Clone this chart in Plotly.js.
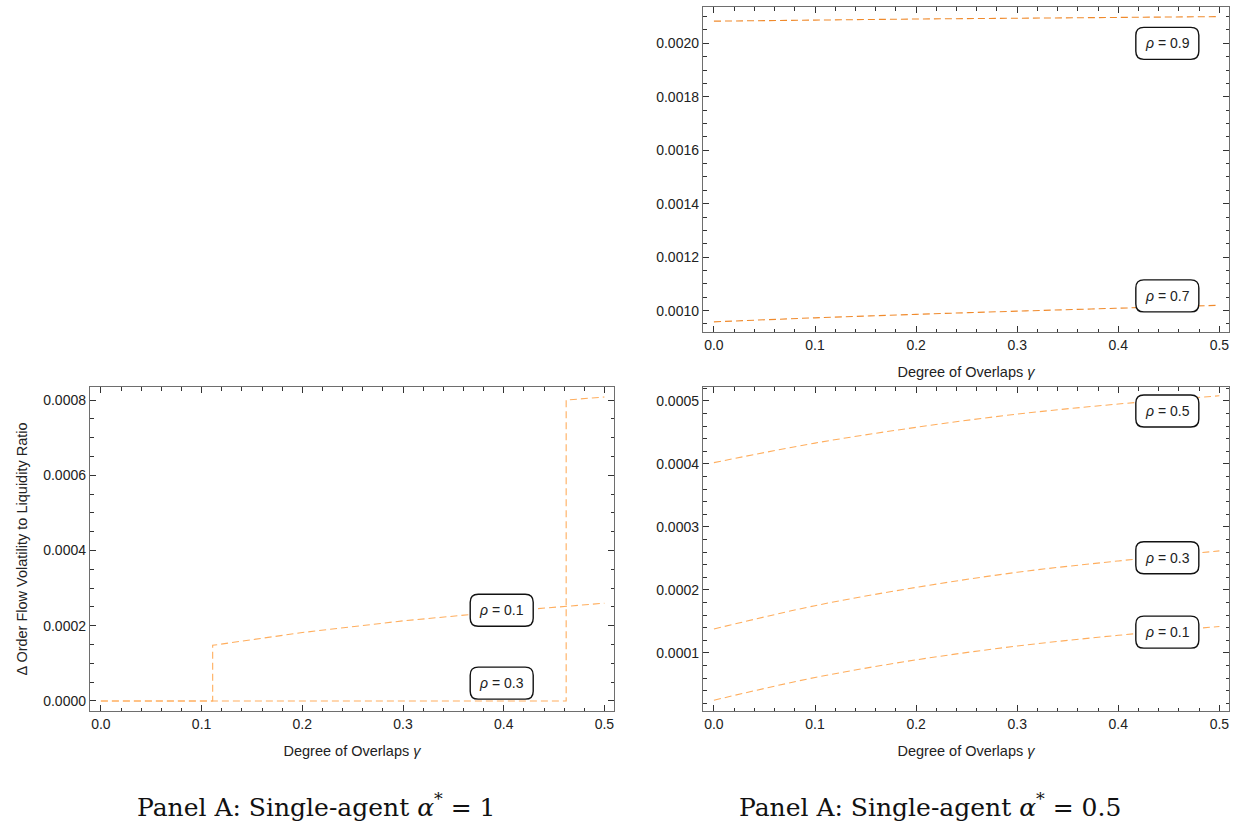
<!DOCTYPE html>
<html>
<head>
<meta charset="utf-8">
<script src="https://cdn.plot.ly/plotly-3.0.1.min.js"></script>
<style>html,body{margin:0;padding:0;background:#fff;} #chart{width:1243px;height:822px;}</style>
</head>
<body>
<div id="chart"></div>
<script>
// ---- Data ----
// Top-right panel (alpha* = 0.5, high rho)
const gammaTR = [0, 0.1, 0.2, 0.3, 0.4, 0.5];
const rho09 = [0.002083, 0.002087, 0.002091, 0.002094, 0.002097, 0.002100];
const rho07 = [0.000958, 0.000973, 0.000986, 0.000998, 0.001009, 0.001020];

// Bottom-left panel (alpha* = 1)
const gammaBL_r01 = [0, 0.111, 0.111, 0.2, 0.3, 0.4, 0.5];
const valBL_r01 = [0, 0, 0.000148, 0.000182, 0.000213, 0.000238, 0.000260];
const gammaBL_r03 = [0, 0.462, 0.462, 0.5];
const valBL_r03 = [0, 0, 0.000800, 0.000808];

// Bottom-right panel (alpha* = 0.5, low rho)
const gammaBR = [0, 0.1, 0.2, 0.3, 0.4, 0.5];
const rho05 = [0.000402, 0.000433, 0.000458, 0.000479, 0.000495, 0.000508];
const rho03 = [0.000138, 0.000175, 0.000204, 0.000228, 0.000246, 0.000262];
const rho01 = [0.000025, 0.000061, 0.000089, 0.000111, 0.000128, 0.000142];

const xTickVals = [0, 0.1, 0.2, 0.3, 0.4, 0.5];
const labelsTR = [{t: "0.9", x: 0.4485, y: 0.0020}, {t: "0.7", x: 0.4485, y: 0.001055}];
const labelsBL = [{t: "0.1", x: 0.398, y: 0.000241}, {t: "0.3", x: 0.398, y: 0.0000474}];
const labelsBR = [{t: "0.5", x: 0.4485, y: 0.000484}, {t: "0.3", x: 0.4485, y: 0.000251}, {t: "0.1", x: 0.4485, y: 0.000133}];
const captions = [
  {text: "Panel A: Single-agent <i>α</i><sup>*</sup> = 1", x: 316},
  {text: "Panel A: Single-agent <i>α</i><sup>*</sup> = 0.5", x: 930}
];

// ---- Styling ----
const W = 1243, H = 822;
const darkOrange = "#f08a2c";
const lightOrange = "#ffae5e";
const dash = "7px,4px";
const frameColor = "#6e6e6e";
const tickFont = {family: "Liberation Sans, Arial, sans-serif", size: 14, color: "#222"};
const titleFont = {family: "Liberation Sans, Arial, sans-serif", size: 14.5, color: "#222"};

function xAxis(domain, anchor) {
  return {
    domain: domain, anchor: anchor, range: [-0.0108, 0.5095],
    tickvals: xTickVals, tickformat: ".1f",
    ticks: "inside", ticklen: 6, tickwidth: 1, tickcolor: "#333",
    minor: {dtick: 0.02, tick0: 0, ticks: "inside", ticklen: 3.5, tickcolor: "#333", showgrid: false},
    showline: true, linecolor: frameColor, linewidth: 1.2, mirror: "allticks",
    showgrid: false, zeroline: false, tickfont: tickFont,
    title: {text: "Degree of Overlaps <i>γ</i>", font: titleFont, standoff: 14}
  };
}
function yAxis(domain, anchor, range, dtick, minorDtick, title) {
  const ax = {
    domain: domain, anchor: anchor, range: range,
    dtick: dtick, tick0: 0, tickformat: ".4f",
    ticks: "inside", ticklen: 6, tickwidth: 1, tickcolor: "#333",
    minor: {dtick: minorDtick, tick0: 0, ticks: "inside", ticklen: 3.5, tickcolor: "#333", showgrid: false},
    showline: true, linecolor: frameColor, linewidth: 1.2, mirror: "allticks",
    showgrid: false, zeroline: false, tickfont: tickFont
  };
  if (title) ax.title = {text: title, font: titleFont, standoff: 12};
  return ax;
}

const dTR = [703 / W, 1229 / W];
const dL = [90 / W, 614 / W];
const yTop = [1 - 332 / H, 1 - 7 / H];
const yBot = [1 - 711 / H, 1 - 387 / H];

const traces = [
  {x: gammaTR, y: rho09, xaxis: "x", yaxis: "y", mode: "lines", line: {color: darkOrange, width: 1.1, dash: dash, shape: "spline"}, name: "ρ = 0.9"},
  {x: gammaTR, y: rho07, xaxis: "x", yaxis: "y", mode: "lines", line: {color: darkOrange, width: 1.1, dash: dash, shape: "spline"}, name: "ρ = 0.7"},
  {x: gammaBL_r01, y: valBL_r01, xaxis: "x2", yaxis: "y2", mode: "lines", line: {color: lightOrange, width: 1.1, dash: dash}, name: "ρ = 0.1"},
  {x: gammaBL_r03, y: valBL_r03, xaxis: "x2", yaxis: "y2", mode: "lines", line: {color: lightOrange, width: 1.1, dash: dash}, name: "ρ = 0.3"},
  {x: gammaBR, y: rho05, xaxis: "x3", yaxis: "y3", mode: "lines", line: {color: lightOrange, width: 1.1, dash: dash, shape: "spline"}, name: "ρ = 0.5"},
  {x: gammaBR, y: rho03, xaxis: "x3", yaxis: "y3", mode: "lines", line: {color: lightOrange, width: 1.1, dash: dash, shape: "spline"}, name: "ρ = 0.3"},
  {x: gammaBR, y: rho01, xaxis: "x3", yaxis: "y3", mode: "lines", line: {color: lightOrange, width: 1.1, dash: dash, shape: "spline"}, name: "ρ = 0.1"}
];

const shapes = [];
const annotations = [];
const bw = 31.5, bh = 16, r = 8;
const boxPath = `M ${-bw + r},${-bh} L ${bw - r},${-bh} Q ${bw},${-bh} ${bw},${-bh + r} L ${bw},${bh - r} Q ${bw},${bh} ${bw - r},${bh} L ${-bw + r},${bh} Q ${-bw},${bh} ${-bw},${bh - r} L ${-bw},${-bh + r} Q ${-bw},${-bh} ${-bw + r},${-bh} Z`;
function addLabels(list, xr, yr) {
  list.forEach(l => {
    shapes.push({type: "path", xref: xr, yref: yr, xsizemode: "pixel", ysizemode: "pixel",
      xanchor: l.x, yanchor: l.y, path: boxPath, fillcolor: "white",
      line: {color: "#111", width: 1.4}, layer: "above"});
    annotations.push({xref: xr, yref: yr, x: l.x, y: l.y, text: "<i>ρ</i> = " + l.t, showarrow: false,
      font: {family: "Liberation Sans, Arial, sans-serif", size: 14, color: "#222"}});
  });
}
addLabels(labelsTR, "x", "y");
addLabels(labelsBL, "x2", "y2");
addLabels(labelsBR, "x3", "y3");
captions.forEach(c => {
  annotations.push({xref: "paper", yref: "paper", x: c.x / W, y: 1 - 805 / H, text: c.text, showarrow: false,
    font: {family: "DejaVu Serif, Liberation Serif, serif", size: 25, color: "#111"}, xanchor: "center", yanchor: "middle"});
});

const layout = {
  width: W, height: H, margin: {l: 0, r: 0, t: 0, b: 0},
  paper_bgcolor: "white", plot_bgcolor: "white", showlegend: false,
  xaxis: xAxis(dTR, "y"),
  yaxis: yAxis(yTop, "x", [0.000920, 0.002136], 0.0002, 0.00005, null),
  xaxis2: xAxis(dL, "y2"),
  yaxis2: yAxis(yBot, "x2", [-0.0000266, 0.0008346], 0.0002, 0.00005, "Δ Order Flow Volatility to Liquidity Ratio"),
  xaxis3: xAxis(dTR, "y3"),
  yaxis3: yAxis(yBot, "x3", [0.0000079, 0.000522], 0.0001, 0.00002, null),
  shapes: shapes, annotations: annotations
};

Plotly.newPlot("chart", traces, layout, {staticPlot: true, displayModeBar: false});
</script>
</body>
</html>
